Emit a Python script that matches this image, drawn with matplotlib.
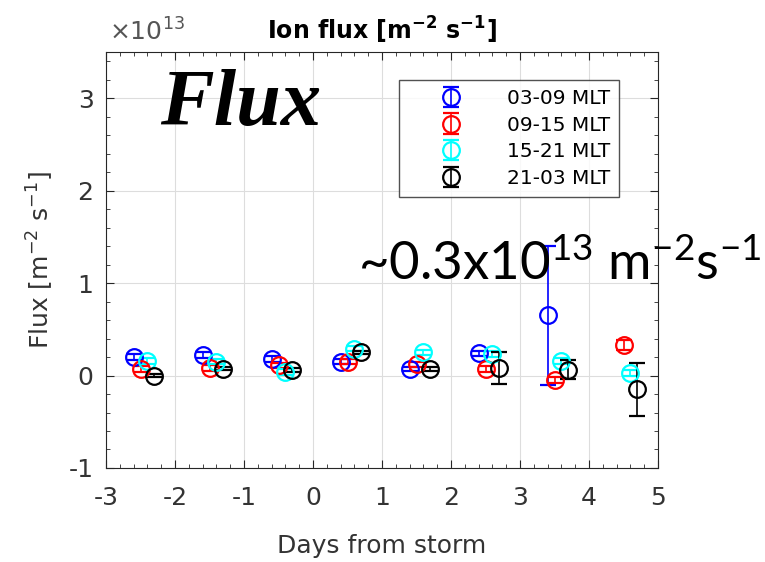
import numpy as np
import matplotlib.pyplot as plt
from matplotlib.ticker import MultipleLocator, FuncFormatter

plt.rcParams['axes.unicode_minus'] = False

# days from storm for each MLT sector (groups offset inside each day)
days_0309 = [-2.6, -1.6, -0.6, 0.4, 1.4, 2.4, 3.4]
days_0915 = [-2.5, -1.5, -0.5, 0.5, 1.5, 2.5, 3.5, 4.5]
days_1521 = [-2.4, -1.4, -0.4, 0.6, 1.6, 2.6, 3.6, 4.6]
days_2103 = [-2.3, -1.3, -0.3, 0.7, 1.7, 2.7, 3.7, 4.7]

# mean ion flux and spread, in units of 1e13 m^-2 s^-1
flux_0309 = [0.20, 0.22, 0.18, 0.15, 0.07, 0.24, 0.65]
err_0309 = [0.03, 0.03, 0.03, 0.03, 0.02, 0.03, 0.75]
flux_0915 = [0.07, 0.08, 0.11, 0.15, 0.12, 0.07, -0.05, 0.33]
err_0915 = [0.03, 0.03, 0.03, 0.03, 0.03, 0.03, 0.03, 0.05]
flux_1521 = [0.16, 0.15, 0.04, 0.29, 0.25, 0.23, 0.16, 0.03]
err_1521 = [0.03, 0.03, 0.03, 0.03, 0.03, 0.03, 0.03, 0.03]
flux_2103 = [0.00, 0.075, 0.06, 0.25, 0.07, 0.08, 0.065, -0.15]
err_2103 = [0.02, 0.02, 0.02, 0.02, 0.02, 0.17, 0.10, 0.29]

labels = ['03-09 MLT', '09-15 MLT', '15-21 MLT', '21-03 MLT']
colors = ['#0000ff', '#ff0000', '#00ffff', '#000000']
scale = 1e13
axcol = '#262626'

fig = plt.figure(figsize=(7.65, 5.62), dpi=100)
ax = fig.add_axes([0.1386, 0.1673, 0.7216, 0.7402])

series = [(days_0309, flux_0309, err_0309),
          (days_0915, flux_0915, err_0915),
          (days_1521, flux_1521, err_1521),
          (days_2103, flux_2103, err_2103)]
for (d, f, e), lab, c in zip(series, labels, colors):
    ax.errorbar(d, np.array(f) * scale, yerr=np.array(e) * scale, fmt='o',
                mfc='none', mec=c, ecolor=c, color=c, ms=12, mew=1.6,
                elinewidth=1.2, capsize=6, capthick=1.5, label=lab)

ax.set_xlim(-3, 5)
ax.set_ylim(-1e13, 3.5e13)
ax.xaxis.set_major_locator(MultipleLocator(1))
ax.xaxis.set_minor_locator(MultipleLocator(0.2))
ax.yaxis.set_major_locator(MultipleLocator(1e13))
ax.yaxis.set_minor_locator(MultipleLocator(0.2e13))
ax.yaxis.set_major_formatter(FuncFormatter(lambda v, p: f'{v / scale:g}'))
fig.text(0.142, 0.927, '×10$^{13}$', fontsize=18, color='#555555',
         ha='left', va='baseline')

ax.grid(True, which='major', color='#dddddd', lw=0.8)
ax.set_axisbelow(True)
ax.tick_params(which='both', direction='in', top=True, right=True,
               colors=axcol, labelsize=18, labelcolor='#333333')
ax.tick_params(axis='x', which='major', pad=13)
ax.tick_params(axis='y', which='major', pad=9)
ax.tick_params(which='major', length=6)
ax.tick_params(which='minor', length=3)
for s in ax.spines.values():
    s.set_color(axcol)

ax.set_xlabel('Days from storm', fontsize=18, color='#333333', labelpad=17)
ax.set_ylabel('Flux [m$^{-2}$ s$^{-1}$]', fontsize=18, color='#333333',
              labelpad=9)
ax.set_title('Ion flux [m$^{\\mathbf{-2}}$ s$^{\\mathbf{-1}}$]', fontsize=17,
             fontweight='bold', pad=9)

leg = ax.legend(loc='upper left', bbox_to_anchor=(0.531, 0.933), fontsize=14.5,
                frameon=True, fancybox=False, edgecolor=axcol,
                handlelength=4.2, borderpad=0.45, labelspacing=0.38,
                handletextpad=0.7, borderaxespad=0)
leg.get_frame().set_linewidth(1.0)

fig.text(0.209, 0.778, 'Flux', fontsize=58, family='Liberation Serif',
         fontweight='bold', style='italic', ha='left', va='baseline')
fig.text(0.468, 0.502,
         '~0.3x10$\\mathregular{^{13}}$ m$\\mathregular{^{-2}}$s$\\mathregular{^{-1}}$',
         fontsize=38, family='Lato', ha='left', va='baseline')

fig.savefig('out.png', dpi=100)
